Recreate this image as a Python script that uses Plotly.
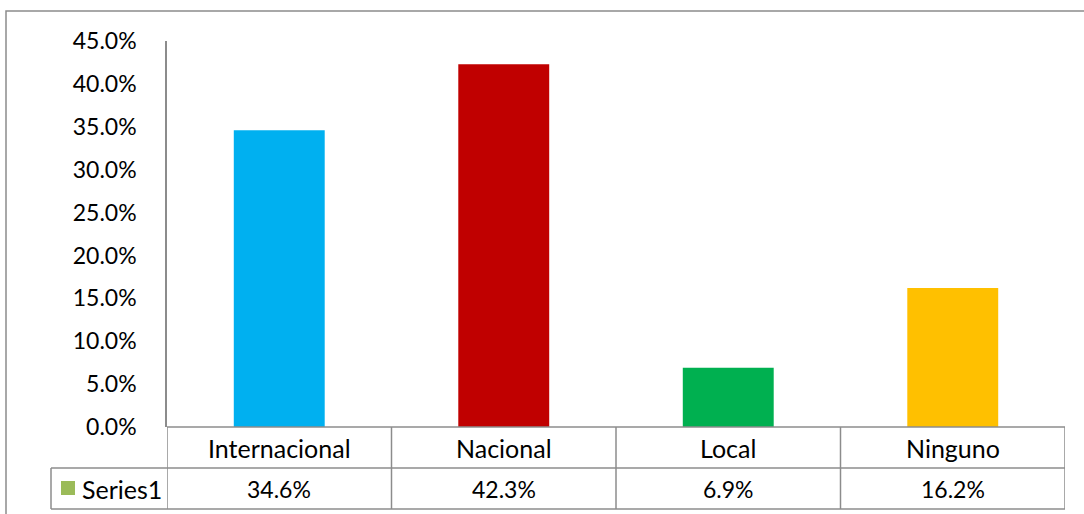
import plotly.graph_objects as go

categories = ["Internacional", "Nacional", "Local", "Ninguno"]
values = [34.6, 42.3, 6.9, 16.2]
value_labels = ["34.6%", "42.3%", "6.9%", "16.2%"]
colors = ["#00B0F0", "#C00000", "#00B050", "#FFC000"]
series_name = "Series1"
y_ticks = [0, 5, 10, 15, 20, 25, 30, 35, 40, 45]
y_tick_labels = [f"{t:.1f}%" for t in y_ticks]

W, H = 1084, 514
L, R, T, B = 167, 19, 41, 87
pw, ph = W - L - R, H - T - B

def px_x(px):
    return (px - L) / pw

def px_y(py):
    return (H - B - py) / ph

FONT = "Lato"
NUM_SIZE = 23
TXT_SIZE = 25
line_c = "#8C8C8C"
n = len(categories)

fig = go.Figure()
fig.add_trace(go.Bar(
    x=list(range(n)), y=values, marker=dict(color=colors, line=dict(width=0)),
    width=0.405, name=series_name, showlegend=False, hoverinfo="skip"))

shapes = []
# outer frame
shapes.append(dict(type="rect", xref="paper", yref="paper",
                   x0=px_x(6), x1=px_x(1095), y0=px_y(525), y1=px_y(11),
                   line=dict(color="#8C8C8C", width=1.5), layer="below"))
row1_top = 427
row1_bot = 468
row2_bot = 509
legend_left = 51
# horizontal table lines
shapes.append(dict(type="line", xref="x", yref="paper", x0=-0.5, x1=n - 0.5,
                   y0=px_y(row1_top), y1=px_y(row1_top), line=dict(color=line_c, width=1.5)))
for yy in (row1_bot, row2_bot):
    shapes.append(dict(type="line", xref="paper", yref="paper", x0=px_x(legend_left), x1=1,
                       y0=px_y(yy), y1=px_y(yy), line=dict(color=line_c, width=1.5)))
# vertical table lines
for i in range(n + 1):
    shapes.append(dict(type="line", xref="x", yref="paper", x0=i - 0.5, x1=i - 0.5,
                       y0=px_y(row1_top), y1=px_y(row2_bot), line=dict(color=line_c, width=1.5)))
shapes.append(dict(type="line", xref="paper", yref="paper", x0=px_x(legend_left), x1=px_x(legend_left),
                   y0=px_y(row1_bot), y1=px_y(row2_bot), line=dict(color=line_c, width=1.5)))
# legend marker
shapes.append(dict(type="rect", xref="paper", yref="paper",
                   x0=px_x(61), x1=px_x(75), y0=px_y(495), y1=px_y(481),
                   fillcolor="#9BBB59", line=dict(width=0)))

annotations = []
for i, c in enumerate(categories):
    annotations.append(dict(x=i, y=px_y(447.5), xref="x", yref="paper", text=c, showarrow=False,
                            font=dict(family=FONT, size=TXT_SIZE, color="#000000"), xanchor="center", yanchor="middle"))
    annotations.append(dict(x=i, y=px_y(489), xref="x", yref="paper", text=value_labels[i], showarrow=False,
                            font=dict(family=FONT, size=NUM_SIZE, color="#000000"), xanchor="center", yanchor="middle"))
annotations.append(dict(x=px_x(80), y=px_y(488.5), xref="paper", yref="paper", text=series_name, showarrow=False,
                        font=dict(family=FONT, size=TXT_SIZE, color="#000000"), xanchor="left", yanchor="middle"))

fig.update_layout(
    width=W, height=H,
    margin=dict(l=L, r=R, t=T, b=B, pad=0),
    paper_bgcolor="white", plot_bgcolor="white",
    shapes=shapes, annotations=annotations,
    xaxis=dict(range=[-0.5, n - 0.5], showticklabels=False, showgrid=False, zeroline=False,
               showline=False, ticks="", fixedrange=True),
    yaxis=dict(range=[0, 45], tickvals=y_ticks, ticktext=y_tick_labels, showgrid=False, zeroline=False,
               showline=True, linecolor=line_c, linewidth=1.5, ticks="", ticklabelstandoff=24,
               tickfont=dict(family=FONT, size=NUM_SIZE, color="#000000"), fixedrange=True),
    showlegend=False,
    hovermode=False,
)

fig.write_html("out.html", config={"displayModeBar": False},
               post_script="document.body.style.margin='0px';")
